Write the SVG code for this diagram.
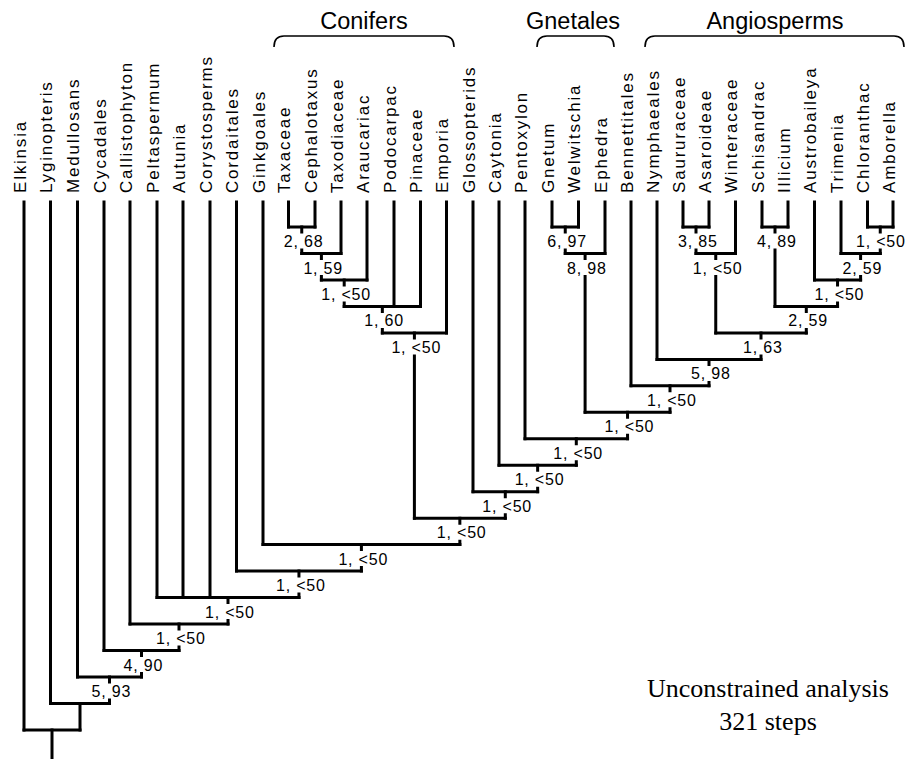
<svg xmlns="http://www.w3.org/2000/svg" width="905" height="759" viewBox="0 0 905 759">
<style>
.t{font-family:"Liberation Sans",Arial,sans-serif;font-size:17px;letter-spacing:1.8px;fill:#000}
.n{font-family:"Liberation Sans",Arial,sans-serif;font-size:16px;letter-spacing:0.8px;fill:#000}
.h{font-family:"Liberation Sans",Arial,sans-serif;font-size:23.5px;text-anchor:middle;fill:#000}
.b{font-family:"Liberation Serif","Times New Roman",serif;font-size:26px;text-anchor:middle;fill:#000}
.e{stroke:#000;stroke-width:3;fill:none;stroke-linecap:square}
.br{stroke:#000;stroke-width:1.6;fill:none}
</style>
<rect width="905" height="759" fill="#fff"/>
<g id="connectors" class="e">
<path d="M24,202V730M50.5,202V703.5M77.5,202V677M104,202V650.5M130,202V624.1M157,202V597.6M183,202V597.6M210,202V597.6M236.5,202V571.1M263,202V544.6M288.5,202V227M315,202V227M341,202V253.5M367,202V279.9M394,202V306.4M420.5,202V306.4M446.5,202V332.9M473,202V491.7M499,202V465.2M525,202V438.8M552,202V227M578.5,202V227M605,202V253.5M631,202V385.8M657,202V359.4M683,202V227M709,202V227M735.5,202V253.5M762,202V227M788,202V227M814.5,202V279.9M841,202V253.5M867.5,202V227M893,202V227"/>
<path d="M288.5,227H315M301.75,253.5H341M321.4,279.9H367M344.2,306.4H420.5M382.35,332.9H446.5M552,227H578.5M565.25,253.5H605M683,227H709M696,253.5H735.5M762,227H788M867.5,227H893M841,253.5H880.25M814.5,279.9H860.6M775,306.4H837.55M715.75,332.9H806.3M657,359.4H761M631,385.8H709M585.1,412.3H670M525,438.8H627.55M499,465.2H576.3M473,491.7H537.65M414.4,518.2H505.3M263,544.6H459.85M236.5,571.1H361.4M157,597.6H298.95M130,624.1H228M104,650.5H179M77.5,677H141.5M50.5,703.5H109.5M24,730H80"/>
<path d="M301.75,227v5M301.75,250V253.5M321.4,253.5v5M321.4,276.5V279.9M344.2,279.9v5M344.2,302.9V306.4M382.35,306.4v5M382.35,329.4V332.9M414.4,332.9v5M414.4,355.9V518.2M565.25,227v5M565.25,250V253.5M585.1,253.5v5M585.1,276.5V412.3M696,227v5M696,250V253.5M715.75,253.5v5M715.75,276.5V332.9M775,227v5M775,250V306.4M880.25,227v5M880.25,250V253.5M860.6,253.5v5M860.6,276.5V279.9M837.55,279.9v5M837.55,302.9V306.4M806.3,306.4v5M806.3,329.4V332.9M761,332.9v5M761,355.9V359.4M709,359.4v5M709,382.4V385.8M670,385.8v5M670,408.8V412.3M627.55,412.3v5M627.55,435.3V438.8M576.3,438.8v5M576.3,461.8V465.2M537.65,465.2v5M537.65,488.2V491.7M505.3,491.7v5M505.3,514.7V518.2M459.85,518.2v5M459.85,541.2V544.6M361.4,544.6v5M361.4,567.6V571.1M298.95,571.1v5M298.95,594.1V597.6M228,597.6v5M228,620.6V624.1M179,624.1v5M179,647.1V650.5M141.5,650.5v5M141.5,673.5V677M109.5,677v5M109.5,700V703.5M80,703.5V730M52,730V762"/>
</g>
<g id="taxa" class="t">
<g id="t-elkinsia"><text transform="translate(25.5,193) rotate(-90)">Elkinsia</text></g>
<g id="t-lyginopteris"><text transform="translate(52,193) rotate(-90)">Lyginopteris</text></g>
<g id="t-medullosans"><text transform="translate(79,193) rotate(-90)">Medullosans</text></g>
<g id="t-cycadales"><text transform="translate(105.5,193) rotate(-90)">Cycadales</text></g>
<g id="t-callistophyton"><text transform="translate(131.5,193) rotate(-90)">Callistophyton</text></g>
<g id="t-peltaspermum"><text transform="translate(158.5,193) rotate(-90)">Peltaspermum</text></g>
<g id="t-autunia"><text transform="translate(184.5,193) rotate(-90)">Autunia</text></g>
<g id="t-corystosperms"><text transform="translate(211.5,193) rotate(-90)">Corystosperms</text></g>
<g id="t-cordaitales"><text transform="translate(238,193) rotate(-90)">Cordaitales</text></g>
<g id="t-ginkgoales"><text transform="translate(264.5,193) rotate(-90)">Ginkgoales</text></g>
<g id="t-taxaceae"><text transform="translate(290,193) rotate(-90)">Taxaceae</text></g>
<g id="t-cephalotaxus"><text transform="translate(316.5,193) rotate(-90)">Cephalotaxus</text></g>
<g id="t-taxodiaceae"><text transform="translate(342.5,193) rotate(-90)">Taxodiaceae</text></g>
<g id="t-araucariac"><text transform="translate(368.5,193) rotate(-90)">Araucariac</text></g>
<g id="t-podocarpac"><text transform="translate(395.5,193) rotate(-90)">Podocarpac</text></g>
<g id="t-pinaceae"><text transform="translate(422,193) rotate(-90)">Pinaceae</text></g>
<g id="t-emporia"><text transform="translate(448,193) rotate(-90)">Emporia</text></g>
<g id="t-glossopterids"><text transform="translate(474.5,193) rotate(-90)">Glossopterids</text></g>
<g id="t-caytonia"><text transform="translate(500.5,193) rotate(-90)">Caytonia</text></g>
<g id="t-pentoxylon"><text transform="translate(526.5,193) rotate(-90)">Pentoxylon</text></g>
<g id="t-gnetum"><text transform="translate(553.5,193) rotate(-90)">Gnetum</text></g>
<g id="t-welwitschia"><text transform="translate(580,193) rotate(-90)">Welwitschia</text></g>
<g id="t-ephedra"><text transform="translate(606.5,193) rotate(-90)">Ephedra</text></g>
<g id="t-bennettitales"><text transform="translate(632.5,193) rotate(-90)">Bennettitales</text></g>
<g id="t-nymphaeales"><text transform="translate(658.5,193) rotate(-90)">Nymphaeales</text></g>
<g id="t-saururaceae"><text transform="translate(684.5,193) rotate(-90)">Saururaceae</text></g>
<g id="t-asaroideae"><text transform="translate(710.5,193) rotate(-90)">Asaroideae</text></g>
<g id="t-winteraceae"><text transform="translate(737,193) rotate(-90)">Winteraceae</text></g>
<g id="t-schisandrac"><text transform="translate(763.5,193) rotate(-90)">Schisandrac</text></g>
<g id="t-illicium"><text transform="translate(789.5,193) rotate(-90)">Illicium</text></g>
<g id="t-austrobaileya"><text transform="translate(816,193) rotate(-90)">Austrobaileya</text></g>
<g id="t-trimenia"><text transform="translate(842.5,193) rotate(-90)">Trimenia</text></g>
<g id="t-chloranthac"><text transform="translate(869,193) rotate(-90)">Chloranthac</text></g>
<g id="t-amborella"><text transform="translate(894.5,193) rotate(-90)">Amborella</text></g>
</g>
<g id="nodes" class="n">
<g id="n-taxaceae-cephalotaxus"><text x="283.75" y="247">2, 68</text></g>
<g id="n-taxodiaceae"><text x="303.4" y="273.5">1, 59</text></g>
<g id="n-araucariac"><text x="321.2" y="299.9">1, &lt;50</text></g>
<g id="n-podo-pinaceae"><text x="364.35" y="326.4">1, 60</text></g>
<g id="n-conifers"><text x="391.4" y="352.9">1, &lt;50</text></g>
<g id="n-gnetum-welwitschia"><text x="547.25" y="247">6, 97</text></g>
<g id="n-gnetales"><text x="567.1" y="273.5">8, 98</text></g>
<g id="n-saururaceae-asaroideae"><text x="678" y="247">3, 85</text></g>
<g id="n-winteraceae"><text x="692.75" y="273.5">1, &lt;50</text></g>
<g id="n-schisandrac-illicium"><text x="757" y="247">4, 89</text></g>
<g id="n-chloranthac-amborella"><text x="856" y="247">1, &lt;50</text></g>
<g id="n-trimenia"><text x="842.6" y="273.5">2, 59</text></g>
<g id="n-austrobaileya"><text x="814.55" y="299.9">1, &lt;50</text></g>
<g id="n-illicium-group"><text x="788.3" y="326.4">2, 59</text></g>
<g id="n-winteraceae-group"><text x="743" y="352.9">1, 63</text></g>
<g id="n-angiosperms"><text x="691" y="379.4">5, 98</text></g>
<g id="n-bennettitales"><text x="647" y="405.8">1, &lt;50</text></g>
<g id="n-gnetales-anthophytes"><text x="604.55" y="432.3">1, &lt;50</text></g>
<g id="n-pentoxylon"><text x="553.3" y="458.8">1, &lt;50</text></g>
<g id="n-caytonia"><text x="514.65" y="485.2">1, &lt;50</text></g>
<g id="n-glossopterids"><text x="482.3" y="511.7">1, &lt;50</text></g>
<g id="n-conifers-anthophytes"><text x="436.85" y="538.2">1, &lt;50</text></g>
<g id="n-ginkgoales"><text x="338.4" y="564.6">1, &lt;50</text></g>
<g id="n-cordaitales"><text x="275.95" y="591.1">1, &lt;50</text></g>
<g id="n-peltasperms"><text x="205" y="617.6">1, &lt;50</text></g>
<g id="n-callistophyton"><text x="156" y="644.1">1, &lt;50</text></g>
<g id="n-cycadales"><text x="123.5" y="670.5">4, 90</text></g>
<g id="n-medullosans"><text x="91.5" y="697">5, 93</text></g>
</g>
<g id="groups">
<g id="g-conifers"><text class="h" x="364" y="29">Conifers</text><path class="br" d="M274,47Q274,36 284,36H444Q454,36 454,47"/></g>
<g id="g-gnetales"><text class="h" x="573" y="29">Gnetales</text><path class="br" d="M537,47Q537,36 547,36H604Q614,36 614,47"/></g>
<g id="g-angiosperms"><text class="h" x="775" y="29">Angiosperms</text><path class="br" d="M645,47Q645,36 655,36H894Q904,36 904,47"/></g>
</g>
<g id="caption" class="b">
<text x="768" y="697">Unconstrained analysis</text>
<text x="768" y="730">321 steps</text>
</g>
</svg>
